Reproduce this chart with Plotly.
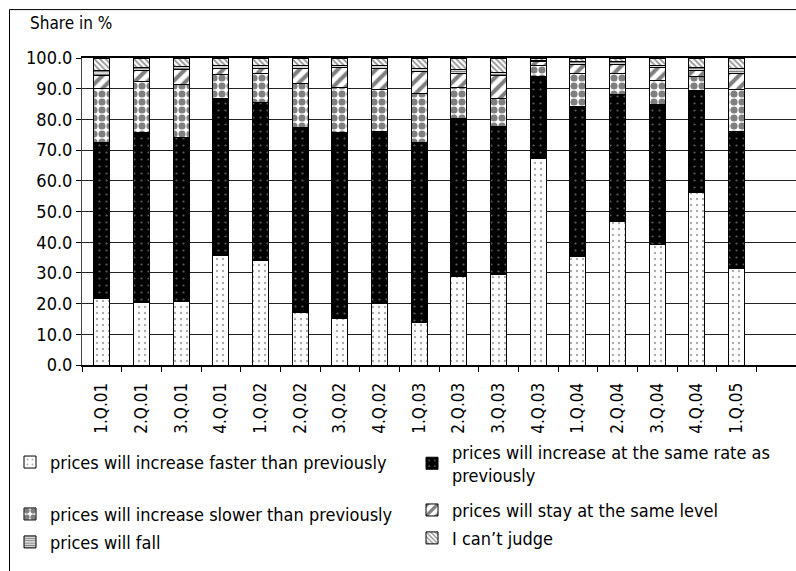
import plotly.graph_objects as go

quarters = ["1.Q.01", "2.Q.01", "3.Q.01", "4.Q.01", "1.Q.02", "2.Q.02", "3.Q.02", "4.Q.02",
            "1.Q.03", "2.Q.03", "3.Q.03", "4.Q.03", "1.Q.04", "2.Q.04", "3.Q.04", "4.Q.04", "1.Q.05"]

faster = [21.7, 20.3, 20.7, 35.7, 34.2, 17.1, 15.3, 19.9, 13.7, 28.7, 29.5, 67.2, 35.4, 46.8, 39.4, 56.2, 31.5]
same_rate = [50.9, 55.5, 53.5, 51.2, 51.4, 60.4, 60.5, 56.1, 58.8, 51.7, 48.2, 26.9, 48.8, 41.4, 45.3, 33.1, 44.5]
slower = [17.5, 16.5, 17.2, 7.6, 9.2, 14.3, 14.7, 13.8, 15.8, 10.1, 9.0, 3.3, 10.8, 6.6, 8.1, 4.6, 13.8]
stay_same = [4.1, 3.6, 4.7, 2.1, 1.8, 4.8, 6.4, 6.7, 7.2, 4.5, 7.5, 1.4, 3.0, 3.0, 4.1, 2.0, 5.2]
fall = [1.7, 1.1, 1.1, 1.1, 1.1, 1.1, 0.8, 1.0, 1.1, 1.1, 1.0, 0.4, 0.8, 1.0, 0.8, 1.1, 1.6]
cant_judge = [4.1, 3.0, 2.8, 2.3, 2.3, 2.3, 2.3, 2.5, 3.4, 3.9, 4.8, 0.8, 1.2, 1.2, 2.3, 3.0, 3.4]

series_names = [
    "prices will increase faster than previously",
    "prices will increase at the same rate as<br>previously",
    "prices will increase slower than previously",
    "prices will stay at the same level",
    "prices will fall",
    "I can\u2019t judge",
]
series_values = [faster, same_rate, slower, stay_same, fall, cant_judge]

patterns = [
    dict(shape=".", fgcolor="#555555", bgcolor="white", size=6, solidity=0.12),
    dict(shape=".", fgcolor="#bbbbbb", bgcolor="black", size=7, solidity=0.08),
    dict(shape=".", fgcolor="black", bgcolor="white", size=8, solidity=0.62),
    dict(shape="/", fgcolor="black", bgcolor="white", size=9, solidity=0.45),
    dict(shape="-", fgcolor="black", bgcolor="white", size=3, solidity=0.55),
    dict(shape="\\", fgcolor="#222222", bgcolor="white", size=4, solidity=0.45),
]

FONT = "DejaVu Sans Condensed, sans-serif"

W, H = 796, 571
L, R, T, B = 82, 0, 58, 205.5
pw, ph = W - L - R, H - T - B

def px_x(px):
    return (px - L) / pw

def px_y(py):
    return (H - B - py) / ph

# legend placement: (left px, centre px) for each entry
legend_ids = ["legend", "legend2", "legend3", "legend4", "legend5", "legend6"]
legend_pos = [(10, 463), (412, 464), (10, 515), (412, 511), (10, 543), (412, 539)]

fig = go.Figure()
for name, vals, pat, lid in zip(series_names, series_values, patterns, legend_ids):
    fig.add_trace(go.Bar(
        x=quarters, y=vals, name=name, legend=lid,
        marker=dict(color="white", pattern=pat, line=dict(color="black", width=1)),
    ))

legend_layout = {}
for lid, (lx, ly) in zip(legend_ids, legend_pos):
    legend_layout[lid] = dict(
        x=px_x(lx), xanchor="left", y=px_y(ly), yanchor="middle",
        orientation="v", bgcolor="rgba(0,0,0,0)", borderwidth=0,
        font=dict(family=FONT, size=18, color="black"),
    )

fig.update_layout(
    width=W, height=H,
    margin=dict(l=L, r=R, t=T, b=B, pad=0, autoexpand=False),
    barmode="stack", bargap=0.6,
    plot_bgcolor="white", paper_bgcolor="white",
    font=dict(family=FONT, size=18, color="black"),
    showlegend=True,
    xaxis=dict(
        type="category", range=[-0.5, 17.5], tickangle=-90,
        showline=True, linecolor="black", linewidth=2, mirror=True,
        ticks="outside", tickson="boundaries", ticklen=5, tickcolor="black",
        ticklabelstandoff=9,
        showgrid=False, tickfont=dict(family=FONT, size=17),
    ),
    yaxis=dict(
        range=[0, 100], tickvals=[0, 10, 20, 30, 40, 50, 60, 70, 80, 90, 100],
        tickformat=".1f", showgrid=True, gridcolor="#222222", gridwidth=1,
        showline=True, linecolor="#444444", linewidth=1,
        ticks="outside", ticklen=5, tickcolor="black",
        tickfont=dict(family=FONT, size=18), zeroline=False,
    ),
    annotations=[dict(
        text="Share in %", x=px_x(28), y=px_y(23), xref="paper", yref="paper",
        xanchor="left", yanchor="middle", showarrow=False,
        font=dict(family=FONT, size=17),
    )],
    shapes=[
        dict(type="line", xref="paper", yref="paper", x0=px_x(9.5), x1=px_x(800),
             y0=px_y(9.5), y1=px_y(9.5), line=dict(color="black", width=1)),
        dict(type="line", xref="paper", yref="paper", x0=px_x(9.5), x1=px_x(9.5),
             y0=px_y(9.5), y1=px_y(580), line=dict(color="black", width=1)),
    ],
    **legend_layout,
)

fig.write_html("out.html")
